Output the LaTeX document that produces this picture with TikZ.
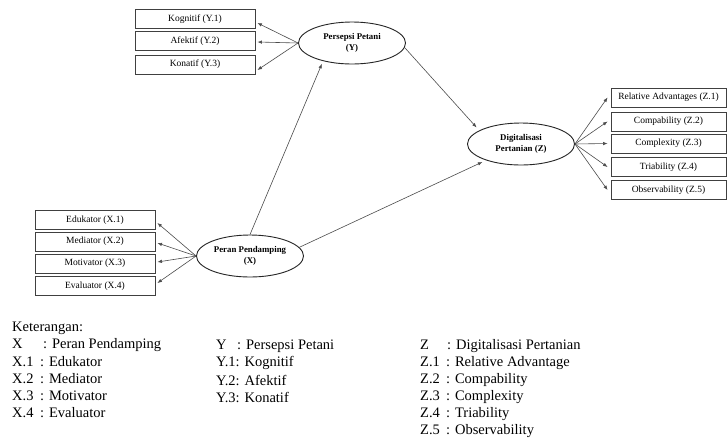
\documentclass[tikz,border=0pt]{standalone}
\usepackage{fontspec}
\setmainfont{Liberation Serif}
\usetikzlibrary{shapes.geometric,arrows.meta}
\newcommand\bxfont{\fontsize{9.5}{11}\selectfont}
\newcommand\ltfont{\fontsize{8.8}{11}\selectfont\bfseries}
\newcommand\lgfont{\fontsize{14.5}{17}\selectfont}
\tikzset{
  box/.style={draw=black!75, line width=0.9pt, minimum width=120pt, minimum height=19pt, inner sep=0pt, font=\bxfont},
  zbox/.style={box, minimum width=115pt},
  lat/.style={ellipse, draw=black!85, line width=0.9pt, minimum width=107pt, minimum height=42pt, inner sep=0pt, align=center, font=\ltfont},
  arr/.style={-{Latex[length=4.5pt,width=3.5pt]}, draw=black!70, line width=0.6pt},
  leg/.style={anchor=west, font=\lgfont, inner sep=0pt}
}
\begin{document}
\begin{tikzpicture}[x=1pt,y=-1pt]
\useasboundingbox[fill=white] (0,0) rectangle (727,440);
% Y indicators
\node[box] (Y1) at (195,19) {Kognitif (Y.1)};
\node[box] (Y2) at (195,41) {Afektif (Y.2)};
\node[box] (Y3) at (195,64.5) {Konatif (Y.3)};
\node[lat] (Y) at (352,43) {Persepsi Petani\\(Y)};
% X indicators
\node[box] (X1) at (95,220) {Edukator (X.1)};
\node[box] (X2) at (95,241.5) {Mediator (X.2)};
\node[box] (X3) at (95,263.5) {Motivator (X.3)};
\node[box] (X4) at (95,286) {Evaluator (X.4)};
\node[lat] (X) at (250,256) {Peran Pendamping\\(X)};
% Z
\node[lat] (Z) at (521,144) {Digitalisasi\\Pertanian (Z)};
\node[zbox] (Z1) at (668.5,97.5) {Relative Advantages (Z.1)};
\node[zbox] (Z2) at (668.5,121.5) {Compability (Z.2)};
\node[zbox] (Z3) at (668.5,143.5) {Complexity (Z.3)};
\node[zbox] (Z4) at (668.5,167) {Triability (Z.4)};
\node[zbox] (Z5) at (668.5,190) {Observability (Z.5)};
% arrows Y
\draw[arr] (Y.west) -- ([xshift=2pt,yshift=-4pt]Y1.east);
\draw[arr] (Y.west) -- ([xshift=2pt,yshift=-1pt]Y2.east);
\draw[arr] (Y.west) -- ([xshift=2pt,yshift=-5.5pt]Y3.east);
% arrows X
\draw[arr] (X.west) -- ([xshift=2pt,yshift=-3pt]X1.east);
\draw[arr] (X.west) -- ([xshift=2pt,yshift=-1.5pt]X2.east);
\draw[arr] (X.west) -- ([xshift=2pt,yshift=1.5pt]X3.east);
\draw[arr] (X.west) -- ([xshift=2pt,yshift=3pt]X4.east);
% arrows Z
\foreach \i in {1,...,5}{\draw[arr] (Z.east) -- ([xshift=-3pt]Z\i.west);}
% structural
\draw[arr, shorten >=3pt] (X.north) -- (Y.212);
\draw[arr, shorten >=4pt] (Y.-5) -- (Z.162);
\draw[arr, shorten >=4pt] (X.10) -- (Z.205);
% legend
\node[leg] (k) at (12,328) {Keterangan:};
\node[leg] (lx) at (12,345) {\makebox[31pt][l]{X}: Peran Pendamping};
\node[leg] (lx1) at (12,362) {\makebox[28pt][l]{X.1}: Edukator};
\node[leg] (lx2) at (12,379) {\makebox[28pt][l]{X.2}: Mediator};
\node[leg] (lx3) at (12,396) {\makebox[28pt][l]{X.3}: Motivator};
\node[leg] (lx4) at (12,413) {\makebox[28pt][l]{X.4}: Evaluator};
\node[leg] (ly) at (216,346) {\makebox[21pt][l]{Y}: Persepsi Petani};
\node[leg] (ly1) at (216,363) {Y.1: Kognitif};
\node[leg] (ly2) at (216,380) {Y.2: Afektif};
\node[leg] (ly3) at (216,397) {Y.3: Konatif};
\node[leg] (lz) at (420,346) {\makebox[27pt][l]{Z}: Digitalisasi Pertanian};
\node[leg] (lz1) at (420,363) {\makebox[26pt][l]{Z.1}: Relative Advantage};
\node[leg] (lz2) at (420,380) {\makebox[26pt][l]{Z.2}: Compability};
\node[leg] (lz3) at (420,397) {\makebox[26pt][l]{Z.3}: Complexity};
\node[leg] (lz4) at (420,414) {\makebox[26pt][l]{Z.4}: Triability};
\node[leg] (lz5) at (420,431) {\makebox[26pt][l]{Z.5}: Observability};
\end{tikzpicture}
\end{document}
